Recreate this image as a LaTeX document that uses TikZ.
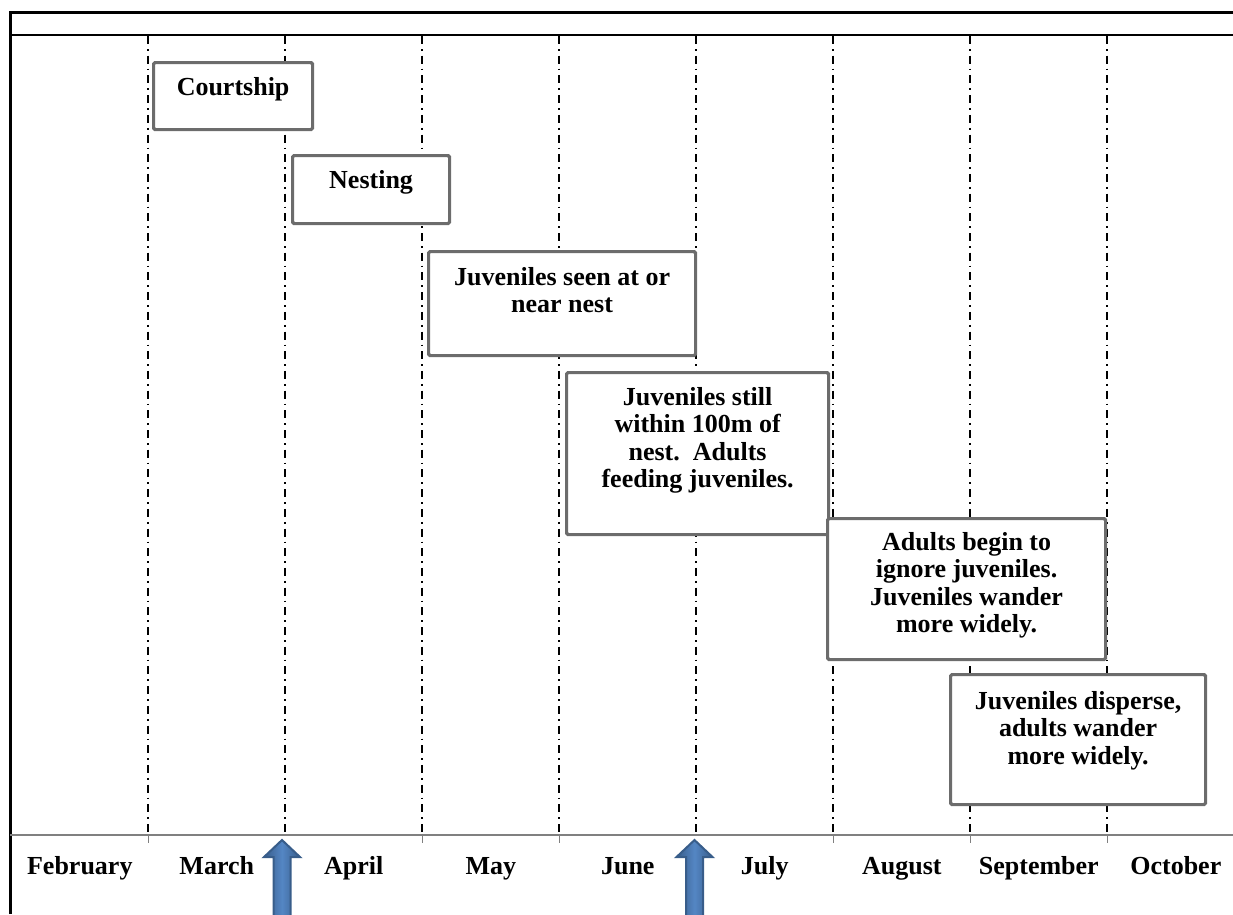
\documentclass[tikz,border=0pt]{standalone}
\usepackage{fontspec}
\setmainfont{Liberation Serif}
\usepackage{xcolor}
\usetikzlibrary{positioning}

\definecolor{boxgray}{RGB}{108,108,108}
\definecolor{axisgray}{RGB}{128,128,128}
\definecolor{arrowfill}{RGB}{84,134,196}
\definecolor{arrowline}{RGB}{56,93,138}

\tikzset{
    stagebox/.style={draw=boxgray, line width=3.2pt, fill=white,
        rounded corners=1.5pt, inner sep=0pt, anchor=north west},
    stagetext/.style={font=\fontsize{26}{27.5}\selectfont\bfseries,
        align=center, inner sep=0pt},
    month/.style={font=\fontsize{26}{28.5}\selectfont\bfseries,
        inner sep=0pt, anchor=base},
    monthline/.style={line width=1.7pt,
        dash pattern=on 8pt off 5pt on 1.7pt off 5pt},
    blockarrow/.style={left color=arrowline, right color=arrowline,
        middle color=arrowfill, draw=arrowline, line width=2pt}
}

\begin{document}
\begin{tikzpicture}[x=1pt,y=-1pt]
        \useasboundingbox (0,0) rectangle (1233,914);
        \clip (0,0) rectangle (1233,914);
        % month borders
        \draw[monthline] (148.3,36) -- (148.3,835);
        \draw[monthline] (285.3,36) -- (285.3,835);
        \draw[monthline] (422.3,36) -- (422.3,835);
        \draw[monthline] (559.3,36) -- (559.3,835);
        \draw[monthline] (696.3,36) -- (696.3,835);
        \draw[monthline] (833.3,36) -- (833.3,835);
        \draw[monthline] (970.3,36) -- (970.3,835);
        \draw[monthline] (1107.3,36) -- (1107.3,835);

        % stages
        \node[stagebox, minimum width=159pt, minimum height=67pt] (court) at (152,61) {};
        \node[stagetext, below=16pt of court.north] (courttext) {Courtship};
        \node[stagebox, minimum width=157pt, minimum height=68pt] (nest) at (291,154) {};
        \node[stagetext, below=16pt of nest.north] (nesttext) {Nesting};
        \node[stagebox, minimum width=267pt, minimum height=104pt] (seen) at (427,250) {};
        \node[stagetext, below=17pt of seen.north] (seentext) {Juveniles seen at or\\ near nest};
        \node[stagebox, minimum width=262pt, minimum height=162pt] (still) at (565,371) {};
        \node[stagetext, below=16pt of still.north] (stilltext) {Juveniles still\\ within 100m of\\ nest.\ \ Adults\\ feeding juveniles.};
        \node[stagebox, minimum width=278pt, minimum height=141pt] (ignore) at (826,517) {};
        \node[stagetext, below=15pt of ignore.north] (ignoretext) {Adults begin to\\ ignore juveniles.\\ Juveniles wander\\ more widely.};
        \node[stagebox, minimum width=255pt, minimum height=130pt] (disperse) at (949,673) {};
        \node[stagetext, below=18pt of disperse.north] (dispersetext) {Juveniles disperse,\\ adults wander\\ more widely.};

        % frame and axis
        \draw[line width=3pt] (10,914) -- (10,12) -- (1233,12); %marking borders
        \draw[line width=2pt] (10,35) -- (1233,35);
        \draw[axisgray, line width=2pt] (10,835) -- (1233,835);
        \draw[axisgray, line width=1.5pt] (148.3,835) -- (148.3,843);
        \draw[axisgray, line width=1.5pt] (422.3,835) -- (422.3,843);
        \draw[axisgray, line width=1.5pt] (559.3,835) -- (559.3,843);
        \draw[axisgray, line width=1.5pt] (833.3,835) -- (833.3,843);
        \draw[axisgray, line width=1.5pt] (970.3,835) -- (970.3,843);
        \draw[axisgray, line width=1.5pt] (1107.3,835) -- (1107.3,843);

        % months
        \node[month] (feb) at (79.8,874) {February};
        \node[month] (mar) at (216.8,874) {March};
        \node[month] (apr) at (353.8,874) {April};
        \node[month] (may) at (490.8,874) {May};
        \node[month] (jun) at (627.8,874) {June};
        \node[month] (jul) at (764.8,874) {July};
        \node[month] (aug) at (901.8,874) {August};
        \node[month] (sep) at (1038.8,874) {September};
        \node[month] (oct) at (1175.8,874) {October};

        % arrows
        \shadedraw[blockarrow] (282,840) -- (300,857) -- (290.5,857) -- (290.5,925)
            -- (273.5,925) -- (273.5,857) -- (264,857) -- cycle;
        \shadedraw[blockarrow] (694.5,840) -- (712.5,857) -- (703,857) -- (703,925)
            -- (686,925) -- (686,857) -- (676.5,857) -- cycle;
\end{tikzpicture}
\end{document}
